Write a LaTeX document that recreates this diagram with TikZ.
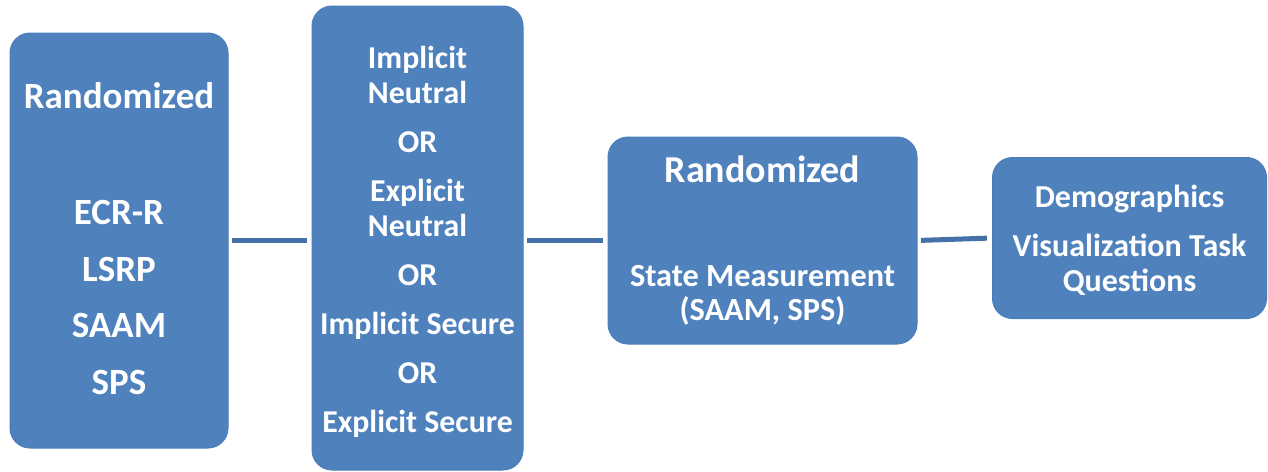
\documentclass[tikz,border=0pt]{standalone}
\usepackage{fontspec}
\setmainfont{Carlito}
\usepackage{tikz}
\definecolor{boxblue}{HTML}{4F81BD}
\definecolor{boxline}{HTML}{4A7EBB}
\definecolor{linkblue}{HTML}{4571A8}
\tikzset{stage/.style={draw=boxline,fill=boxblue,rounded corners=20pt,line width=1pt,text=white,align=center,inner sep=0pt,font=\bfseries\fontsize{31.8}{35}\selectfont}}
\tikzset{link/.style={linkblue,line width=5pt,shorten <=3.5pt,shorten >=5pt}}

\begin{document}
\begin{tikzpicture}[x=1pt,y=-1pt]
	\useasboundingbox (0,0) rectangle (1268,471);
	\node[stage,minimum width=218pt,minimum height=415pt,font=\bfseries\fontsize{37}{56.5}\selectfont] (rand) at (119,240.5)
	{Randomized\\[59.5pt]ECR-R\\LSRP\\SAAM\\SPS\rule[-4pt]{0pt}{0pt}};
	\node[stage,minimum width=211pt,minimum height=464pt] (prime) at (417.5,238)
	{\rule{0pt}{30pt}Implicit\\Neutral\\[14pt]OR\\[14pt]Explicit\\Neutral\\[14pt]OR\\[14pt]Implicit Secure\\[14pt]OR\\[14pt]Explicit Secure};
	\node[stage,minimum width=309pt,minimum height=207pt,font=\bfseries\fontsize{32.3}{34}\selectfont] (state) at (762.5,240.5)
	{{\fontsize{38}{34}\selectfont Randomized}\\[70pt]State Measurement\\(SAAM, SPS)};
	\node[stage,minimum width=274pt,minimum height=161pt,font=\bfseries\fontsize{32}{35}\selectfont] (demo) at (1129.5,238)
	{\rule{0pt}{28pt}Demographics\\[14pt]Visualization Task\\Questions};
	\draw[link] (rand.east) -- (rand.east -| prime.west);
	\draw[link] (prime.east |- state.west) -- (state.west);
	\draw[link] (state.east) -- (demo.west);
\end{tikzpicture}
\end{document}
